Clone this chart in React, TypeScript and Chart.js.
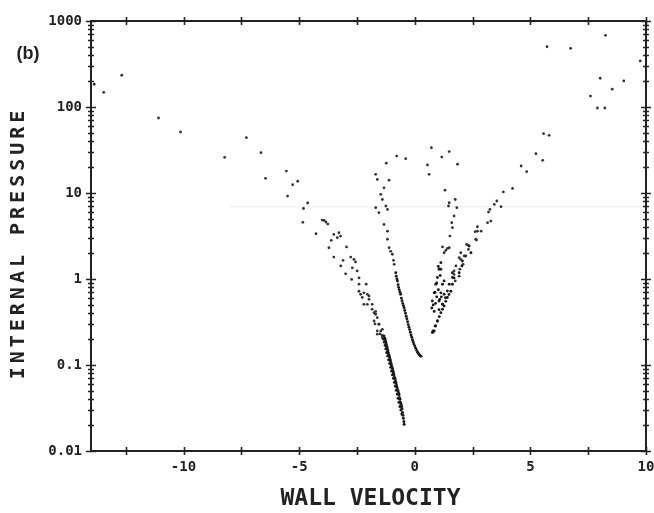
import React, { useEffect, useRef } from 'react';
import { Chart, registerables } from 'chart.js';

Chart.register(...registerables);

// ---- axis ranges & ticks ----
const X_MIN = -14;
const X_MAX = 10;
const Y_MIN = 0.01;
const Y_MAX = 1000;
const xTickValues = [-12.5, -10, -7.5, -5, -2.5, 0, 2.5, 5, 7.5, 10];
const xTickLabels = ['', '-10', '', '-5', '', '0', '', '5', '', '10'];
const yDecades = [0.01, 0.1, 1, 10, 100, 1000];
const yDecadeLabels = ['0.01', '0.1', '1', '10', '100', '1000'];
const yMinorFactors = [2, 3, 4, 5, 6, 7, 8, 9];

const xTitle = 'WALL VELOCITY';
const yTitle = 'INTERNAL PRESSURE';
const panelLabel = '(b)';

// ---- data: [wall velocity, internal pressure] ----
const sparseLeft: number[][] = [
  [-13.86, 184], [-13.45, 148], [-12.67, 234], [-11.08, 74.5], [-10.13, 51.2],
  [-8.22, 26.0], [-7.28, 44], [-6.65, 29.4], [-6.45, 14.8], [-5.55, 18.0],
  [-5.28, 12.5], [-5.06, 13.7], [-5.5, 9.2], [-4.63, 7.65], [-4.81, 6.6],
  [-4.84, 4.56], [-4.27, 3.36], [-4.0, 4.85], [-3.92, 4.8], [-3.84, 4.6],
  [-3.76, 4.35], [-3.28, 3.45], [-3.35, 3.02], [-3.61, 2.82], [-3.5, 3.3],
  [-3.21, 3.16], [-3.71, 2.31], [-2.95, 2.36], [-3.5, 1.8], [-3.2, 1.42],
  [-3.1, 1.65], [-2.77, 1.8], [-2.63, 1.69], [-2.56, 1.58], [-2.99, 1.15],
  [-2.7, 1.35], [-2.49, 1.24], [-2.73, 0.99], [-2.41, 1.03], [-2.41, 0.87],
  [-2.1, 0.87], [-2.41, 0.72], [-2.27, 0.61], [-2.34, 0.664], [-2.05, 0.664],
  [-1.98, 0.58], [-2.2, 0.508], [-1.84, 0.508], [-1.76, 0.405], [-1.62, 0.355],
  [-1.69, 0.42], [-1.55, 0.298], [-1.72, 0.30], [-1.4, 0.26], [-1.62, 0.249],
  [-1.5, 0.23], [-2.2, 0.69], [-1.98, 0.634], [-2.05, 0.508], [-1.84, 0.444],
  [-1.69, 0.389], [-1.76, 0.325], [-1.55, 0.298], [-1.47, 0.249], [-1.62, 0.228],
  [-1.4, 0.208],
];

const denseLeft: number[][] = [
  [-1.33, 0.217], [-1.3, 0.205], [-1.29, 0.2], [-1.26, 0.19], [-1.24, 0.18],
  [-1.22, 0.17], [-1.2, 0.162], [-1.18, 0.153], [-1.16, 0.146], [-1.14, 0.138],
  [-1.11, 0.131], [-1.09, 0.124], [-1.07, 0.117], [-1.05, 0.111], [-1.03, 0.105],
  [-1.01, 0.1], [-0.98, 0.095], [-0.96, 0.09], [-0.94, 0.085], [-0.92, 0.081],
  [-0.9, 0.077], [-0.88, 0.072], [-0.85, 0.069], [-0.83, 0.065], [-0.81, 0.062],
  [-0.79, 0.058], [-0.77, 0.055], [-0.75, 0.052], [-0.72, 0.05], [-0.7, 0.047],
  [-0.68, 0.045], [-0.66, 0.042], [-0.64, 0.04], [-0.62, 0.037], [-0.59, 0.035],
  [-0.57, 0.033], [-0.55, 0.031], [-0.53, 0.028], [-0.51, 0.026], [-0.49, 0.024],
  [-0.47, 0.022], [-0.46, 0.0205],
  [-1.4, 0.22], [-1.36, 0.2], [-1.32, 0.185], [-1.28, 0.17], [-1.25, 0.155],
  [-1.21, 0.14], [-1.17, 0.128], [-1.13, 0.115], [-1.08, 0.104], [-1.04, 0.094],
  [-1.0, 0.085], [-0.96, 0.077], [-0.92, 0.07], [-0.88, 0.063], [-0.84, 0.057],
  [-0.8, 0.051], [-0.76, 0.046], [-0.72, 0.041], [-0.68, 0.037], [-0.64, 0.033],
  [-0.6, 0.03], [-0.56, 0.027],
];

const sparseMiddle: number[][] = [
  [-1.23, 22.2], [-0.78, 26.9], [-0.39, 25.1], [-1.69, 16.5], [-1.62, 14.4],
  [-1.11, 14.1], [-1.33, 11.5], [-1.47, 9.65], [-1.4, 8.4], [-1.69, 6.75],
  [-1.55, 5.9], [-1.18, 6.45], [-1.25, 7.06], [-1.33, 4.3], [-1.18, 3.6],
  [-1.18, 2.9], [-1.11, 2.31], [-1.04, 2.1], [-0.97, 1.94], [-0.92, 1.65],
  [-0.89, 1.48],
];

const denseMiddle: number[][] = [
  [-0.82, 1.18], [-0.8, 1.08], [-0.77, 1.0], [-0.75, 0.947], [-0.72, 0.86],
  [-0.7, 0.8], [-0.67, 0.75], [-0.64, 0.7], [-0.61, 0.664], [-0.58, 0.6],
  [-0.55, 0.56], [-0.52, 0.52], [-0.49, 0.49], [-0.46, 0.464], [-0.43, 0.43],
  [-0.4, 0.4], [-0.37, 0.37], [-0.34, 0.345], [-0.31, 0.318], [-0.28, 0.295],
  [-0.25, 0.275], [-0.22, 0.258], [-0.19, 0.24], [-0.16, 0.224], [-0.13, 0.21],
  [-0.1, 0.197], [-0.07, 0.186], [-0.04, 0.176], [0.0, 0.166], [0.04, 0.157],
  [0.08, 0.148], [0.12, 0.141], [0.16, 0.136], [0.2, 0.131], [0.24, 0.128],
  [0.27, 0.126],
];

const sparseRight: number[][] = [
  [0.72, 33.6], [1.17, 26.2], [1.49, 30.3], [0.55, 21.2], [1.85, 21.6],
  [0.62, 16.5], [1.31, 10.8], [1.75, 8.4], [1.49, 7.7], [1.82, 6.75],
  [1.46, 7.06], [1.7, 5.4], [1.6, 4.52], [1.63, 3.95], [1.52, 3.16],
  [2.71, 3.6], [2.64, 2.9], [2.24, 2.53],
  [5.24, 28.6], [5.53, 24.0], [4.6, 20.6], [4.84, 17.7], [4.23, 11.3],
  [3.83, 10.3], [3.55, 8.07], [3.73, 6.93], [3.44, 7.37], [3.25, 6.45],
  [3.19, 6.0], [3.29, 4.72], [3.15, 4.52], [2.87, 3.6], [2.71, 4.05],
  [2.61, 3.55], [2.67, 2.84], [2.3, 2.48], [2.32, 2.21], [2.14, 1.85],
  [1.99, 1.69], [2.09, 1.48], [1.95, 1.3], [1.92, 1.08], [1.7, 1.13],
  [1.75, 0.95], [1.99, 2.02], [1.92, 1.77], [1.78, 1.42], [1.7, 1.24],
  [1.2, 2.36], [1.41, 2.27], [1.27, 2.02], [1.34, 2.15], [1.49, 2.31],
  [5.72, 502], [6.74, 481], [8.25, 682], [9.75, 343], [8.02, 216],
  [9.04, 201], [8.54, 161], [7.6, 134], [7.9, 97.3], [8.22, 97.3],
  [5.57, 49], [5.81, 46.9],
];

const denseRight: number[][] = [
  [1.13, 1.55], [1.05, 1.3], [0.98, 1.04], [0.91, 0.87], [0.84, 0.69],
  [0.76, 0.555], [0.74, 0.46], [0.84, 0.42], [1.05, 0.44], [1.2, 0.51],
  [1.33, 0.606], [1.41, 0.725], [1.49, 0.87], [1.63, 1.04], [1.63, 1.18],
  [1.13, 0.69], [1.2, 0.87], [1.27, 0.95], [1.05, 0.555], [0.98, 0.325],
  [0.88, 0.284], [0.79, 0.249], [0.95, 0.62], [1.02, 0.75], [1.08, 0.58],
  [0.9, 0.52], [1.15, 0.62], [1.1, 1.1], [1.02, 1.4], [1.13, 1.3],
  [0.88, 0.7], [0.8, 0.5], [0.95, 0.9], [1.27, 0.664], [1.2, 0.508],
  [2.35, 2.42], [2.43, 2.02], [2.2, 1.85], [2.06, 1.62], [2.04, 1.42],
  [1.92, 1.18], [1.7, 1.03], [1.63, 0.87], [1.56, 0.72], [1.48, 0.66],
  [1.41, 0.61], [1.34, 0.55], [1.27, 0.486], [1.2, 0.445], [1.13, 0.406],
  [1.06, 0.365], [0.98, 0.325], [0.91, 0.285], [0.84, 0.249], [0.8, 0.243],
  [0.76, 0.238],
];

// faint horizontal scan streak
const streak: number[][] = [[-8.0, 6.93], [10, 6.93]];

const toXY = (arr: number[][]) => arr.map(([x, y]) => ({ x, y }));

const isDecade = (v: number) => yDecades.some((d) => Math.abs(v - d) / d < 1e-6);

const yTickValues: number[] = [];
yDecades.forEach((d, i) => {
  yTickValues.push(d);
  if (i < yDecades.length - 1) yMinorFactors.forEach((f) => yTickValues.push(d * f));
});

const INK = '#222';
const MONO = '"DejaVu Sans Mono", monospace';

const framePlugin = {
  id: 'frameTicks',
  afterDatasetsDraw(chart: any) {
    const { ctx, chartArea: a, scales } = chart;
    const xs = scales.x;
    const ys = scales.y;
    ctx.save();
    ctx.strokeStyle = INK;
    ctx.lineWidth = 2;
    ctx.strokeRect(a.left, a.top, a.right - a.left, a.bottom - a.top);
    ctx.lineWidth = 1.6;
    ctx.beginPath();
    xs.ticks.forEach((t: any) => {
      const p = Math.round(xs.getPixelForValue(t.value)) + 0.5;
      ctx.moveTo(p, a.bottom - 4);
      ctx.lineTo(p, a.bottom + 4);
      ctx.moveTo(p, a.top - 4);
      ctx.lineTo(p, a.top + 4);
    });
    ys.ticks.forEach((t: any) => {
      const p = Math.round(ys.getPixelForValue(t.value)) + 0.5;
      const L = isDecade(t.value) ? 5 : 3;
      ctx.moveTo(a.left - L, p);
      ctx.lineTo(a.left + L, p);
      ctx.moveTo(a.right - L, p);
      ctx.lineTo(a.right + L, p);
    });
    ctx.stroke();

    // titles
    ctx.fillStyle = INK;
    ctx.textAlign = 'center';
    ctx.textBaseline = 'middle';
    ctx.font = `bold 23px ${MONO}`;
    ctx.fillText(xTitle, (a.left + a.right) / 2 + 2, 499);

    ctx.save();
    ctx.translate(19, 245);
    ctx.rotate(-Math.PI / 2);
    ctx.font = `bold 20px ${MONO}`;
    (ctx as any).letterSpacing = '4px';
    ctx.fillText(yTitle, 2, 0);
    ctx.restore();

    ctx.font = 'bold 18px "Liberation Sans", Arial, sans-serif';
    ctx.fillText(panelLabel, 28, 54);
    ctx.restore();
  },
};

export default function App() {
  const ref = useRef<HTMLCanvasElement | null>(null);

  useEffect(() => {
    if (!ref.current) return;
    const pointDs = (data: number[][], r: number, color: string) => ({
      type: 'scatter' as const,
      data: toXY(data),
      pointRadius: r,
      pointBackgroundColor: color,
      pointBorderWidth: 0,
      borderWidth: 0,
      showLine: false,
    });
    const chart = new Chart(ref.current, {
      type: 'scatter',
      data: {
        datasets: [
          {
            type: 'line',
            data: toXY(streak),
            borderColor: 'rgba(0,0,0,0.06)',
            borderWidth: 1.5,
            pointRadius: 0,
            showLine: true,
          } as any,
          pointDs(sparseLeft, 1.4, '#333'),
          pointDs(sparseMiddle, 1.4, '#333'),
          pointDs(sparseRight, 1.4, '#333'),
          pointDs(denseLeft, 1.5, '#1a1a1a'),
          pointDs(denseMiddle, 1.45, '#1a1a1a'),
          pointDs(denseRight, 1.45, '#1a1a1a'),
        ],
      },
      options: {
        animation: false,
        responsive: false,
        events: [],
        layout: { padding: { top: 21, right: 8, left: 0, bottom: 0 } },
        plugins: { legend: { display: false }, tooltip: { enabled: false } },
        scales: {
          x: {
            type: 'linear',
            min: X_MIN,
            max: X_MAX,
            grid: { display: false, drawTicks: false },
            border: { display: false },
            afterBuildTicks: (s: any) => {
              s.ticks = xTickValues.map((v) => ({ value: v }));
            },
            afterFit: (s: any) => {
              s.height = 62;
              s.paddingLeft = 0;
              s.paddingRight = 0;
            },
            ticks: {
              autoSkip: false,
              maxRotation: 0,
              padding: 8,
              color: INK,
              font: { family: MONO, size: 14, weight: 'bold' },
              callback: (v: any) => {
                const i = xTickValues.indexOf(Number(v));
                return i >= 0 ? xTickLabels[i] : '';
              },
            },
          },
          y: {
            type: 'logarithmic',
            min: Y_MIN,
            max: Y_MAX,
            grid: { display: false, drawTicks: false },
            border: { display: false },
            afterBuildTicks: (s: any) => {
              s.ticks = yTickValues.map((v) => ({ value: v, major: isDecade(v) }));
            },
            afterFit: (s: any) => {
              s.width = 91;
              s.paddingTop = 0;
              s.paddingBottom = 0;
            },
            ticks: {
              autoSkip: false,
              padding: 9,
              color: INK,
              font: { family: MONO, size: 14, weight: 'bold' },
              callback: (v: any) => {
                const i = yDecades.findIndex((d) => Math.abs(Number(v) - d) / d < 1e-6);
                return i >= 0 ? yDecadeLabels[i] : '';
              },
            },
          },
        },
      },
      plugins: [framePlugin],
    });
    return () => chart.destroy();
  }, []);

  return (
    <div style={{ position: 'fixed', left: 0, top: 0, width: 654, height: 513, background: '#fff' }}>
      <canvas ref={ref} width={654} height={513} style={{ display: 'block' }} />
    </div>
  );
}
